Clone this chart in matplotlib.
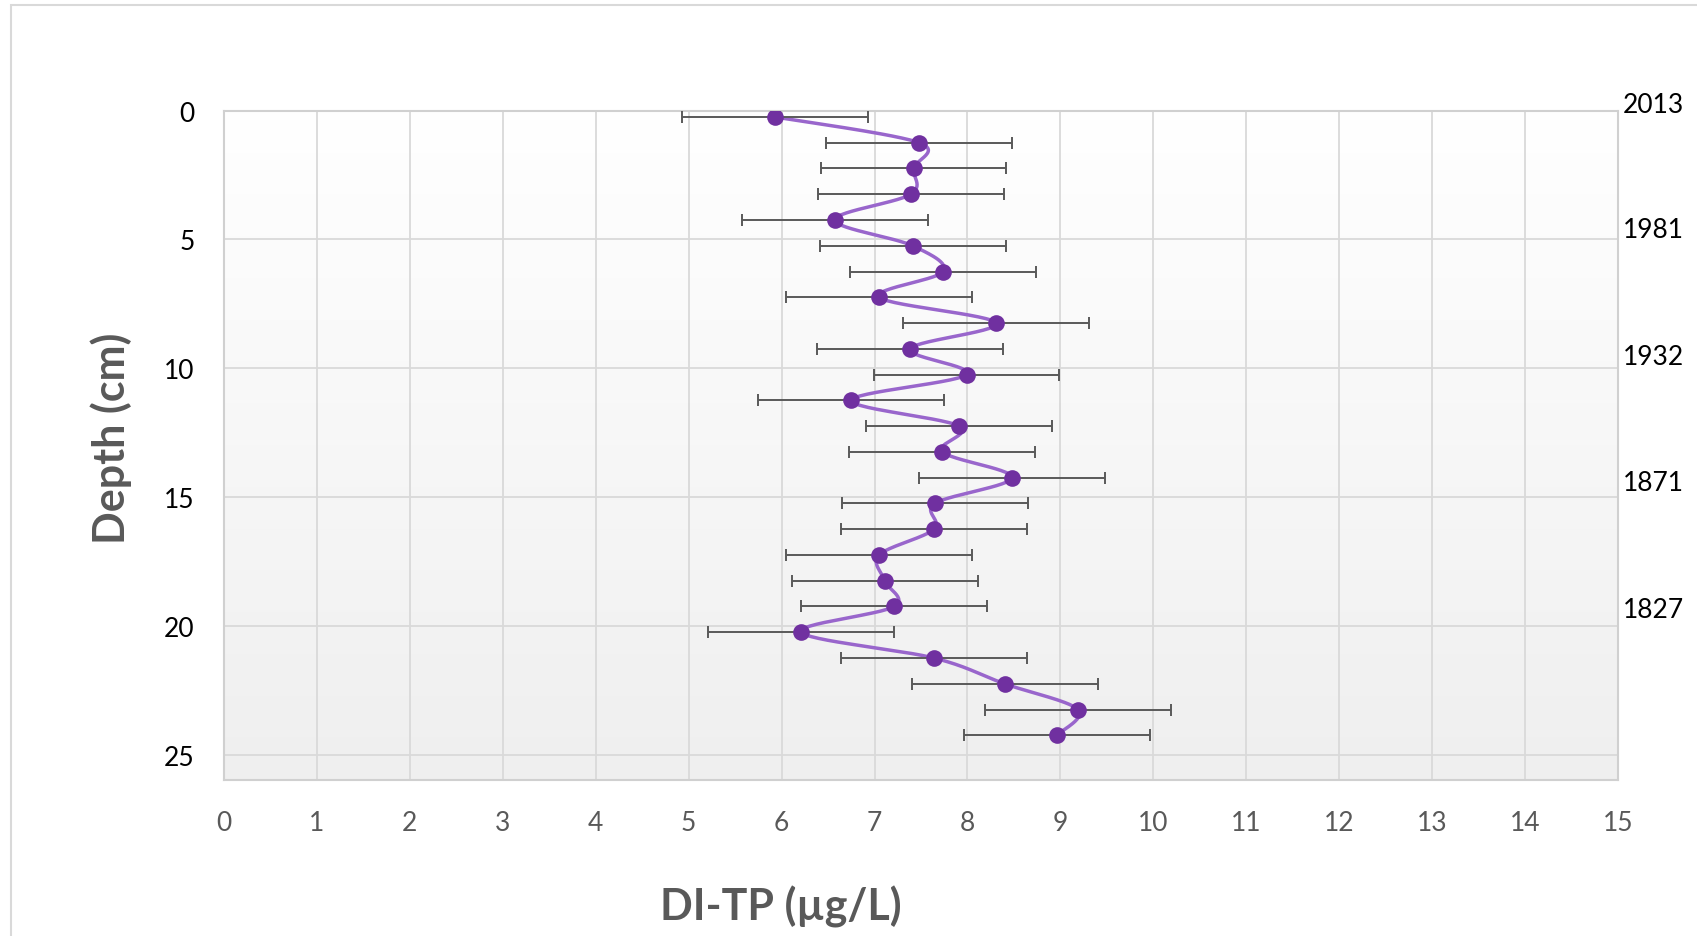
import numpy as np
import matplotlib
matplotlib.use("Agg")
import matplotlib.pyplot as plt
from matplotlib.patches import Rectangle
from matplotlib.colors import LinearSegmentedColormap
import matplotlib.transforms as mtransforms

# ---- data ----
depth_cm = [0.25, 1.25, 2.25, 3.25, 4.25, 5.25, 6.25, 7.25, 8.25, 9.25,
            10.25, 11.25, 12.25, 13.25, 14.25, 15.25, 16.25, 17.25, 18.25,
            19.25, 20.25, 21.25, 22.25, 23.25, 24.25]
di_tp = [5.93, 7.48, 7.42, 7.39, 6.57, 7.41, 7.74, 7.05, 8.31, 7.38,
         7.99, 6.75, 7.91, 7.73, 8.48, 7.65, 7.64, 7.05, 7.11, 7.21,
         6.21, 7.64, 8.40, 9.19, 8.96]
tp_err = [1.0, 1.0, 1.0, 1.0, 1.0, 1.0, 1.0, 1.0, 1.0, 1.0,
          1.0, 1.0, 1.0, 1.0, 1.0, 1.0, 1.0, 1.0, 1.0, 1.0,
          1.0, 1.0, 1.0, 1.0, 1.0]
year_labels = ["2013", "1981", "1932", "1871", "1827"]
year_depths = [-0.25, 4.62, 9.53, 14.45, 19.37]
x_ticks = list(range(0, 16))
y_ticks = [0, 5, 10, 15, 20, 25]

FONT = "Lato"
plt.rcParams['font.family'] = [FONT, 'DejaVu Sans']


def catmull_rom(xs, ys, n=30):
    p = np.column_stack([xs, ys]).astype(float)
    p_ext = np.vstack([p[0], p, p[-1]])
    out = []
    t = np.linspace(0, 1, n)
    for i in range(1, len(p_ext) - 2):
        p0, p1, p2, p3 = p_ext[i - 1], p_ext[i], p_ext[i + 1], p_ext[i + 2]
        m1 = (p2 - p0) / 2.0
        m2 = (p3 - p1) / 2.0
        h00 = 2 * t**3 - 3 * t**2 + 1
        h10 = t**3 - 2 * t**2 + t
        h01 = -2 * t**3 + 3 * t**2
        h11 = t**3 - t**2
        seg = (h00[:, None] * p1 + h10[:, None] * m1 +
               h01[:, None] * p2 + h11[:, None] * m2)
        out.append(seg if i == 1 else seg[1:])
    out = np.vstack(out)
    return out[:, 0], out[:, 1]


W, H = 1697, 937
fig = plt.figure(figsize=(W / 100, H / 100), dpi=100)
fig.patch.set_facecolor("white")

# chart-area border (cropped at right/bottom)
fig.patches.append(Rectangle((11 / W, -0.1), 1.2, 1.1 - 6 / H,
                             transform=fig.transFigure, fill=False,
                             edgecolor="#d9d9d9", linewidth=1.5))

left, right = 224 / W, 1618 / W
top, bottom = 1 - 111.5 / H, 1 - 781.4 / H
ax = fig.add_axes([left, bottom, right - left, top - bottom])

# gradient background: white at top, light grey at bottom
grad = np.linspace(0.0, 1.0, 256).reshape(-1, 1)
cmap = LinearSegmentedColormap.from_list("bg", ["#efefef", "#ffffff"])
ax.imshow(grad, extent=[0, 1, 0, 1], transform=ax.transAxes, cmap=cmap,
          aspect="auto", zorder=0, origin="lower")

ax.set_xlim(0, 15)
ax.set_ylim(26, 0)
ax.set_xticks(x_ticks)
ax.set_yticks(y_ticks)
ax.grid(True, color="#d9d9d9", linewidth=1.3, zorder=1)
ax.set_axisbelow(True)
for s in ax.spines.values():
    s.set_color("#d0d0d0")
    s.set_linewidth(1.5)
ax.tick_params(axis="both", length=0)
ax.tick_params(axis="x", pad=21, labelsize=19, labelcolor="#595959")
ax.tick_params(axis="y", pad=21, labelsize=19, labelcolor="#000000")

sx, sy = catmull_rom(di_tp, depth_cm)
ax.plot(sx, sy, color="#9966cc", linewidth=2.5, zorder=3,
        solid_capstyle="round")
ax.errorbar(di_tp, depth_cm, xerr=tp_err, fmt="none", ecolor="#595959",
            elinewidth=1.4, capsize=4, capthick=1.4, zorder=4)
ax.plot(di_tp, depth_cm, "o", color="#7030a0", markersize=12, zorder=5,
        markeredgewidth=0)

trans = mtransforms.blended_transform_factory(fig.transFigure, ax.transData)
for lab, d in zip(year_labels, year_depths):
    fig.text(1623 / W, d, lab, transform=trans, ha="left", va="center",
             fontsize=19, color="#000000")

fig.text(111 / W, 1 - 438 / H, "Depth (cm)", rotation=90, ha="center",
         va="center", fontsize=31, fontweight="bold", color="#595959")
fig.text(781 / W, 1 - 907 / H, "DI-TP (µg/L)", ha="center", va="center",
         fontsize=31, fontweight="bold", color="#595959")

fig.savefig("out.png", dpi=100)
